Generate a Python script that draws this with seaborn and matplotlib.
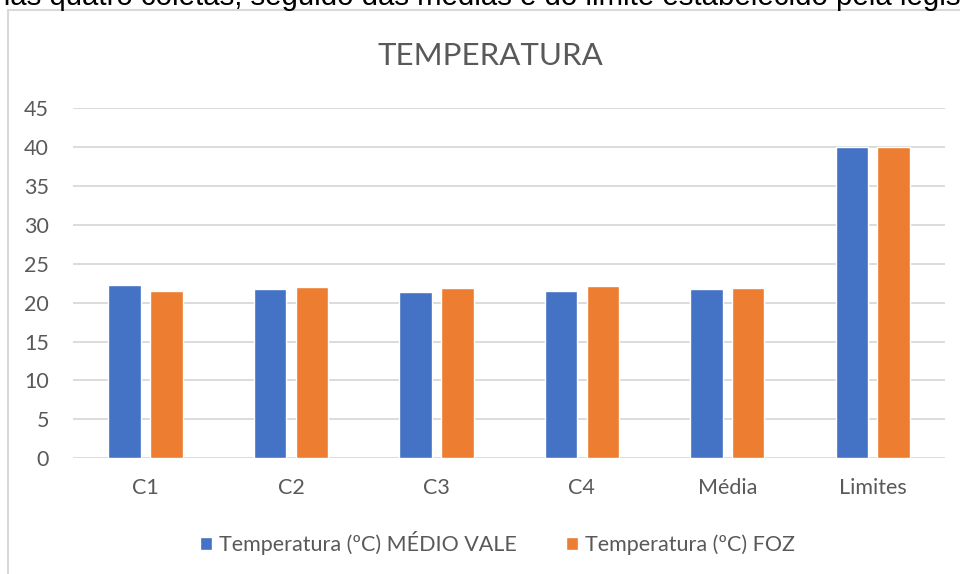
import matplotlib
matplotlib.use("Agg")
import matplotlib.pyplot as plt
from matplotlib.patches import Rectangle
import seaborn as sns
import pandas as pd

# Temperature per collection, averages and legal limit
categories = ["C1", "C2", "C3", "C4", "Média", "Limites"]
medio_vale = [22.3, 21.8, 21.4, 21.5, 21.75, 40]
foz = [21.5, 22.0, 21.9, 22.1, 21.9, 40]
series_names = ["Temperatura (ºC) MÉDIO VALE", "Temperatura (ºC) FOZ"]
colors = ["#4472C4", "#ED7D31"]
y_ticks = [0, 5, 10, 15, 20, 25, 30, 35, 40, 45]

df = pd.DataFrame({
    "categoria": categories * 2,
    "valor": medio_vale + foz,
    "serie": [series_names[0]] * len(categories) + [series_names[1]] * len(categories),
})

sns.set_theme(style="white")
plt.rcParams["font.family"] = ["Lato", "DejaVu Sans"]
text_gray = "#595959"
grid_gray = "#D9D9D9"

fig = plt.figure(figsize=(9.6, 5.74), dpi=100)
ax = fig.add_axes([72.7 / 960, 1 - 458.3 / 574, (945.5 - 72.7) / 960, (458.3 - 108) / 574])

sns.barplot(data=df, x="categoria", y="valor", hue="serie", order=categories,
            hue_order=series_names, palette=colors, width=0.576, gap=0.225,
            saturation=1, ax=ax, legend=True, zorder=3)

ax.set_ylim(0, 45)
ax.set_xlim(-0.5, len(categories) - 0.5)
ax.set_yticks(y_ticks)
ax.set_yticklabels([str(t) for t in y_ticks])
ax.yaxis.grid(True, color=grid_gray, linewidth=1.3, zorder=0)
ax.set_axisbelow(True)
for s in ax.spines.values():
    s.set_visible(False)
ax.tick_params(axis="y", length=0, pad=17, labelsize=15.5, labelcolor=text_gray)
ax.tick_params(axis="x", length=0, pad=14, labelsize=15.5, labelcolor=text_gray)
ax.set_xlabel("")
ax.set_ylabel("")

handles, labels = ax.get_legend_handles_labels()
ax.legend_.remove()
fig.legend(handles, labels, loc="center", bbox_to_anchor=(497.5 / 960, 1 - 543 / 574),
           ncol=2, frameon=False, fontsize=15.5, handlelength=0.55, handleheight=0.55,
           handletextpad=0.33, columnspacing=2.3, labelcolor=text_gray)

fig.text(490 / 960, 1 - 56 / 574, "TEMPERATURA", ha="center", va="center",
         fontsize=22.5, color=text_gray)

# Chart frame
fig.patches.append(Rectangle((8 / 960, -0.1), 1.2, 1.1 - 10 / 574, transform=fig.transFigure,
                             fill=False, edgecolor=grid_gray, linewidth=1.5, zorder=0))

# Text line of the page above the chart
fig.text(-6 / 960, 1 - 5 / 574,
         "nas quatro coletas, seguido das médias e do limite estabelecido pela legislação.",
         ha="left", va="baseline", fontsize=21.2, color="black", family="Liberation Sans")

fig.savefig("out.png", dpi=100)
